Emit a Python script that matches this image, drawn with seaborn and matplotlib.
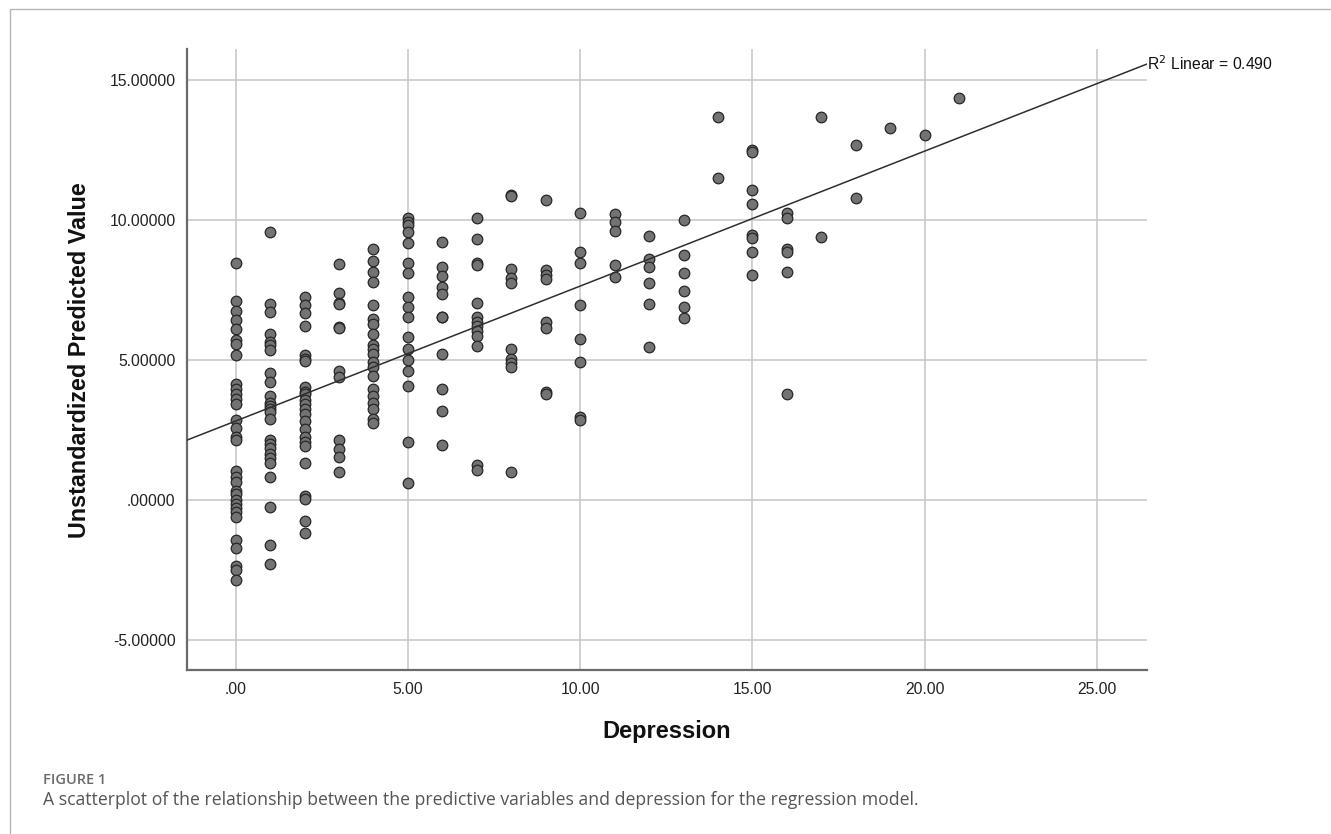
import numpy as np
import pandas as pd
import matplotlib
matplotlib.use("Agg")
import matplotlib.pyplot as plt
from matplotlib.lines import Line2D
import seaborn as sns

# ---- data: predicted values for each depression score ----
dep0 = [8.45, 7.12, 6.75, 6.42, 6.1, 5.7, 5.58, 5.17, 4.15, 3.97, 3.8, 3.6, 3.42,
        2.86, 2.55, 2.25, 2.15, 1.02, 0.82, 0.65, 0.3, 0.2, 0.0, -0.15, -0.3,
        -0.45, -0.62, -1.42, -1.72, -2.35, -2.5, -2.86]
dep1 = [9.58, 7.0, 6.7, 5.92, 5.65, 5.52, 5.36, 4.55, 4.2, 3.7, 3.45, 3.35, 3.25,
        3.15, 2.9, 2.14, 2.0, 1.85, 1.65, 1.5, 1.33, 0.82, -0.27, -1.6, -2.28]
dep2 = [7.24, 6.97, 6.67, 6.2, 5.17, 5.02, 4.95, 4.05, 3.87, 3.79, 3.58, 3.43,
        3.24, 3.05, 2.8, 2.53, 2.26, 2.08, 1.92, 1.33, 0.14, 0.02, -0.77, -1.2]
dep3 = [8.42, 7.38, 7.02, 7.0, 6.17, 6.15, 4.62, 4.4, 2.14, 1.81, 1.52, 0.99]
dep4 = [8.98, 8.52, 8.15, 7.8, 6.96, 6.45, 6.3, 5.92, 5.55, 5.4, 5.2, 4.93, 4.75,
        4.42, 3.97, 3.7, 3.45, 3.25, 2.9, 2.75]
dep5 = [10.06, 9.94, 9.82, 9.58, 9.17, 8.45, 8.1, 7.24, 6.88, 6.55, 5.83, 5.38,
        4.98, 4.62, 4.07, 2.08, 0.62]
dep6 = [9.23, 8.33, 8.0, 7.6, 7.36, 6.55, 6.52, 5.21, 3.95, 3.19, 1.96]
dep7 = [10.06, 9.32, 8.48, 8.39, 7.05, 6.52, 6.37, 6.21, 6.05, 5.86, 5.48, 1.25, 1.05]
dep8 = [10.9, 10.85, 8.24, 7.92, 7.76, 5.38, 5.02, 4.88, 4.76, 0.98]
dep9 = [10.71, 8.21, 8.04, 7.88, 6.37, 6.13, 3.86, 3.8]
dep10 = [10.26, 8.87, 8.45, 6.96, 5.74, 4.94, 2.95, 2.85]
dep11 = [10.21, 9.94, 9.62, 8.39, 7.98]
dep12 = [9.43, 8.6, 8.33, 7.74, 7.0, 5.45]
dep13 = [10.0, 8.75, 8.12, 7.48, 6.88, 6.49]
dep14 = [13.69, 11.49]
dep15 = [12.5, 12.44, 11.07, 10.56, 9.46, 9.35, 8.87, 8.04]
dep16 = [10.26, 10.06, 8.95, 8.87, 8.15, 3.79]
dep17 = [13.69, 9.4]
dep18 = [12.68, 10.77]
dep19 = [13.27]
dep20 = [13.04]
dep21 = [14.37]

columns = [dep0, dep1, dep2, dep3, dep4, dep5, dep6, dep7, dep8, dep9, dep10,
           dep11, dep12, dep13, dep14, dep15, dep16, dep17, dep18, dep19, dep20, dep21]

x_ticks = [0, 5, 10, 15, 20, 25]
x_ticklabels = [".00", "5.00", "10.00", "15.00", "20.00", "25.00"]
y_ticks = [-5, 0, 5, 10, 15]
y_ticklabels = ["-5.00000", ".00000", "5.00000", "10.00000", "15.00000"]
r2_label = "R$^2$ Linear = 0.490"

rows = []
for score, vals in enumerate(columns):
    for v in vals:
        rows.append((float(score), v))
df = pd.DataFrame(rows, columns=["Depression", "Predicted"])

# ---- style ----
sns.set_theme(style="white")
plt.rcParams["font.family"] = ["Liberation Sans", "DejaVu Sans"]

W, H = 1331, 834
fig = plt.figure(figsize=(W / 100, H / 100), dpi=100)
ax = fig.add_axes([186.7 / W, 1 - 670 / H, (1147 - 186.7) / W, (670 - 49.3) / H])

ax.set_xlim(-1.42, 26.45)
ax.set_ylim(-6.08, 16.1)
ax.set_xticks(x_ticks)
ax.set_yticks(y_ticks)
ax.grid(True, color="#c9c9c9", linewidth=1.2)
ax.set_axisbelow(True)

sns.regplot(data=df, x="Depression", y="Predicted", ax=ax, scatter=False,
            ci=None, truncate=False,
            line_kws=dict(color="#2e2e2e", linewidth=1.1, zorder=4))
sns.scatterplot(data=df, x="Depression", y="Predicted", ax=ax, s=58,
                color="#737373", edgecolor="#262626", linewidth=0.9, zorder=3)

ax.set_xlim(-1.42, 26.45)
ax.set_ylim(-6.08, 16.1)
ax.set_xticklabels(x_ticklabels, fontsize=11.3, color="#222222")
ax.set_yticklabels(y_ticklabels, fontsize=11.3, color="#222222")
ax.tick_params(axis="both", length=0)
ax.tick_params(axis="x", pad=9)
ax.tick_params(axis="y", pad=8)

for side in ["top", "right"]:
    ax.spines[side].set_visible(False)
for side in ["left", "bottom"]:
    ax.spines[side].set_color("#6a6a6a")
    ax.spines[side].set_linewidth(1.6)

ax.set_xlabel("Depression", fontsize=17, fontweight="bold", labelpad=16, color="#111111")
ax.set_ylabel("Unstandardized Predicted Value", fontsize=16.8, fontweight="bold",
              labelpad=13, color="#111111")

# R^2 annotation at end of fitted line
line = ax.lines[0]
xd, yd = line.get_xdata(), line.get_ydata()
ax.text(xd[-1], yd[-1], r2_label, fontsize=11.3, ha="left", va="center",
        color="#111111", clip_on=False)

# figure frame (top and left edges) and caption
fig.add_artist(Line2D([9.5 / W, 1.0], [1 - 9.3 / H, 1 - 9.3 / H], color="#b5b5b5", linewidth=1.0))
fig.add_artist(Line2D([9.5 / W, 9.5 / W], [0.0, 1 - 9.3 / H], color="#b5b5b5", linewidth=1.0))
fig.text(43 / W, 1 - 780 / H, "FIGURE 1", fontsize=10.5, color="#6b6b6b",
         family=["Open Sans", "DejaVu Sans"], fontweight="semibold", va="center")
fig.text(43 / W, 1 - 800 / H,
         "A scatterplot of the relationship between the predictive variables and depression for the regression model.",
         fontsize=12.7, color="#555555", family=["Open Sans", "DejaVu Sans"], va="center")

fig.savefig("out.png", dpi=100, facecolor="white")
